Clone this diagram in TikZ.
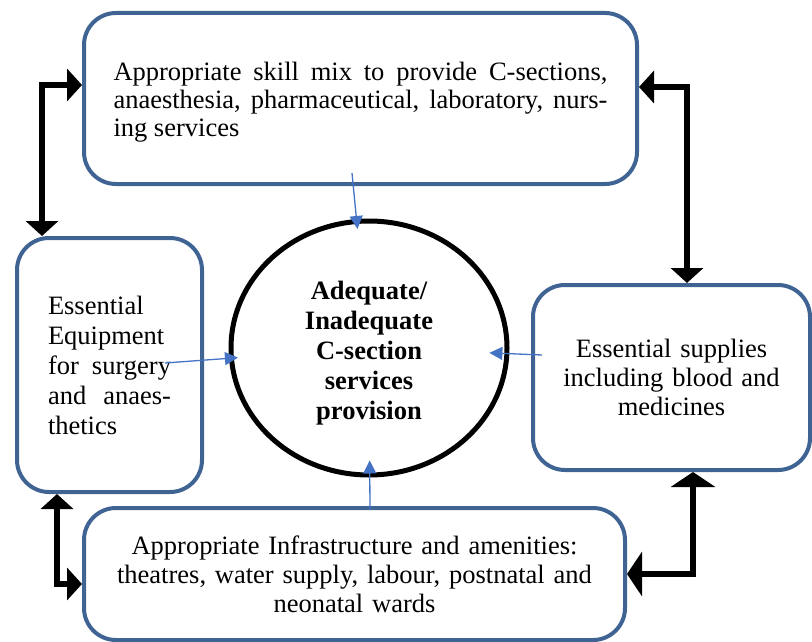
\documentclass[tikz,border=0pt]{standalone}
\usepackage{fontspec}
\setmainfont{Liberation Serif}
\usetikzlibrary{arrows.meta,shapes.geometric,calc}
\definecolor{boxblue}{HTML}{3F6493}
\definecolor{arrblue}{HTML}{4472C4}
\begin{document}
\begin{tikzpicture}[x=1pt,y=-1pt,
  box/.style={draw=boxblue, line width=4pt, rounded corners=32pt, inner sep=0pt,
    font=\fontsize{26.5}{29}\selectfont},
  txt/.style={inner sep=0pt, font=\fontsize{26.5}{29}\selectfont},
  link/.style={line width=6pt, {Triangle[length=15pt,width=32pt]}-{Triangle[length=15pt,width=32pt]}},
  biglink/.style={line width=6pt, {Triangle[length=15pt,width=44pt]}-{Triangle[length=15pt,width=44pt]}},
  feed/.style={draw=arrblue, line width=1.3pt, -{Triangle[length=13pt,width=13pt]}}]
\useasboundingbox (0,0) rectangle (812,642);
\node[box, minimum width=553pt, minimum height=171pt] (top) at (360.5,98.5) {};
\node[txt, text width=494pt, align=justify, font=\fontsize{26.5}{28}\selectfont] (toptext) at (360.5,102.5)
  {Appropriate skill mix to provide C-sections,\linebreak anaesthesia, pharmaceutical, laboratory, nurs-\linebreak ing services};
\node[box, minimum width=185pt, minimum height=254pt, text width=123pt, align=justify,
  font=\fontsize{26.5}{30}\selectfont] (left) at (109.5,365)
  {Essential\\ Equipment\\ for surgery\linebreak and anaes-\linebreak thetics};
\node[box, minimum width=277pt, minimum height=185pt, text width=240pt, align=center] (right) at (671.5,377.5)
  {Essential supplies\\ including blood and\\ medicines};
\node[box, minimum width=541pt, minimum height=132pt, text width=500pt, align=center] (bottom) at (354.5,574)
  {Appropriate Infrastructure and amenities:\\ theatres, water supply, labour, postnatal and\\ neonatal wards};
\node[draw=black, line width=5pt, ellipse, minimum width=276pt, minimum height=254pt, inner sep=0pt] (circ) at (369,348) {};
\node[txt, align=center, font=\fontsize{26.5}{30}\selectfont\bfseries] (circtext) at (369,353)
  {Adequate/\\ Inadequate\\ C-section\\ services\\ provision};
\coordinate (c1) at (42,85);
\coordinate (c2) at (687,87);
\coordinate (c3) at (57,584);
\coordinate (c4) at (693,574);
\draw[link] (left.north -| c1) -- (c1) -- (top.west |- c1);
\draw[link] (top.east |- c2) -- (c2) -- (right.north -| c2);
\draw[link] (left.south -| c3) -- (c3) -- (bottom.west |- c3);
\draw[biglink] (right.south -| c4) -- (c4) -- (bottom.east |- c4);
\coordinate (s1) at (352,173);
\coordinate (s2) at (165,363);
\coordinate (s3) at (542,355);
\coordinate (s4) at (370,510);
\draw[feed, shorten >=-10pt] (s1) -- (circ);
\draw[feed, shorten >=-9pt] (s2) -- (circ);
\draw[feed, shorten >=-20pt] (s3) -- (circ);
\draw[feed, shorten >=-17pt] (s4) -- (circ);
\end{tikzpicture}
\end{document}
